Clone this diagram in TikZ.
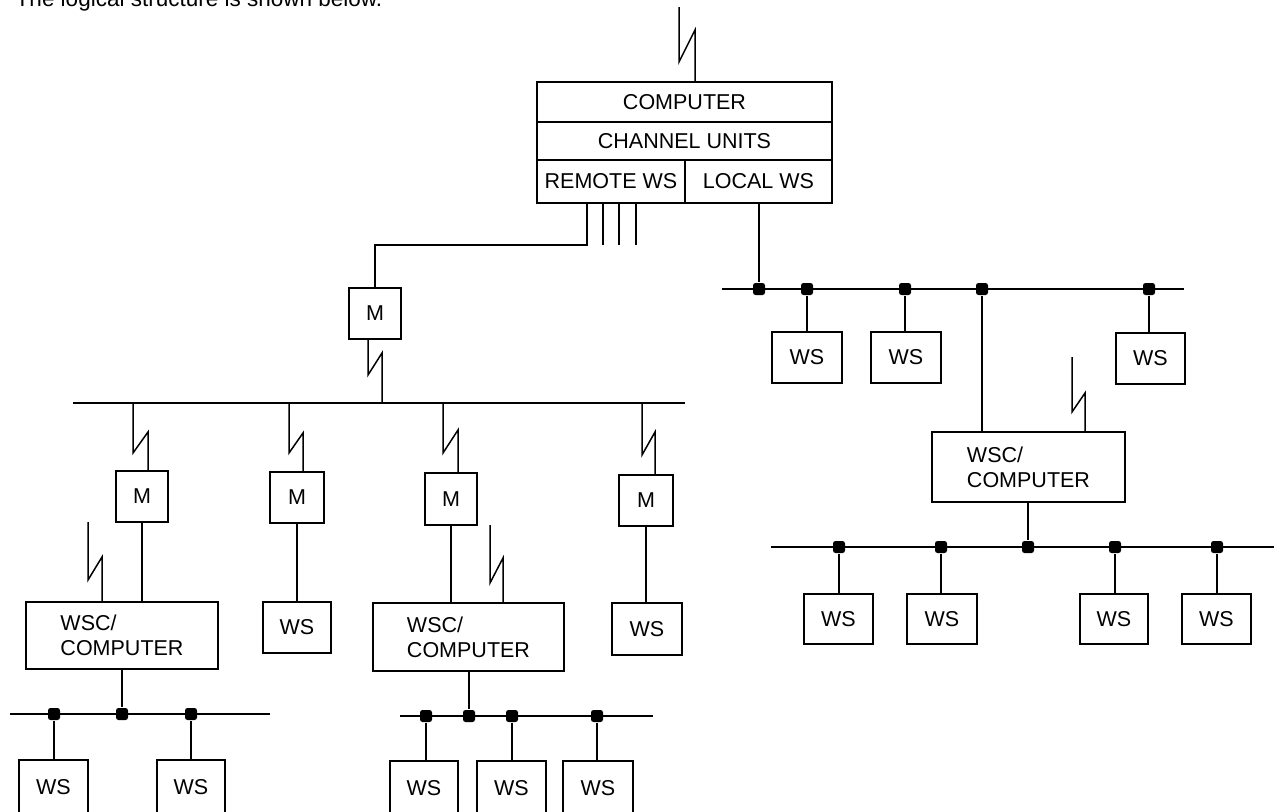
\documentclass[tikz,border=0pt]{standalone}
\usepackage{fontspec}
\setmainfont{Liberation Sans}
\newcommand\lbl{\fontsize{21.5}{25}\selectfont}
\newcommand\introfont{\fontsize{22.5}{26}\selectfont}
\begin{document}
\begin{tikzpicture}[x=1pt,y=-1pt,line width=1.5pt,
  box/.style={draw,inner sep=0pt,font=\lbl,align=center},
  mbox/.style={box,minimum width=52pt,minimum height=51pt},
  wsbox/.style={box,minimum height=51pt},
  wscbox/.style={box,align=left},
  bdot/.style={fill,draw=none,minimum size=12pt,inner sep=0pt,rounded corners=2.5pt}]
\useasboundingbox (0,0) rectangle (1274,811);
\clip (0,0) rectangle (1274,811);

\node[anchor=base west,font=\introfont,inner sep=0pt] (intro) at (15,6) {The logical structure is shown below.};

% central computer
\node[box,minimum width=295pt,minimum height=40pt] (top) at (684.5,102) {COMPUTER};
\node[box,minimum width=295pt,minimum height=38pt] (chan) at (684.5,141) {CHANNEL UNITS};
\node[box,minimum width=148pt,minimum height=43pt] (remote) at (611,181.5) {\raisebox{-4pt}{REMOTE WS}};
\node[box,minimum width=147pt,minimum height=43pt] (local) at (758.5,181.5) {\raisebox{-4pt}{LOCAL WS}};

% modems
\node[mbox] (M0) at (375,313.5) {M};
\node[mbox] (M1) at (142,496.5) {M};
\node[mbox,minimum width=54pt] (M2) at (297,497.5) {M};
\node[mbox,minimum height=52pt] (M3) at (451,499) {M};
\node[mbox,minimum width=54pt] (M4) at (646,500.5) {M};

% WSC computers
\node[wscbox,minimum width=192pt,minimum height=67pt] (wsc1) at (122,635.5) {WSC/\\COMPUTER};
\node[wscbox,minimum width=191pt,minimum height=68pt] (wsc2) at (468.5,637) {WSC/\\COMPUTER};
\node[wscbox,minimum width=193pt,minimum height=70pt] (wsc3) at (1028.5,467) {WSC/\\COMPUTER};

% workstations
\node[wsbox,minimum width=68pt] (wsA) at (297,627.5) {WS};
\node[wsbox,minimum width=70pt,minimum height=52pt] (wsB) at (647,629) {WS};
\node[wsbox,minimum width=69pt,minimum height=54pt] (wsL1) at (53.5,787) {WS};
\node[wsbox,minimum width=68pt,minimum height=54pt] (wsL2) at (191,787) {WS};
\node[wsbox,minimum width=68pt,minimum height=54pt] (wsM1) at (424,788) {WS};
\node[wsbox,minimum width=69pt,minimum height=54pt] (wsM2) at (511.5,788) {WS};
\node[wsbox,minimum width=70pt,minimum height=54pt] (wsM3) at (598,788) {WS};
\node[wsbox,minimum width=70pt] (wsR1) at (807,357.5) {WS};
\node[wsbox,minimum width=70pt] (wsR2) at (906,357.5) {WS};
\node[wsbox,minimum width=69pt] (wsR3) at (1150.5,358.5) {WS};
\node[wsbox,minimum width=69pt,minimum height=50pt] (wsS1) at (838.5,619) {WS};
\node[wsbox,minimum width=70pt,minimum height=50pt] (wsS2) at (942,619) {WS};
\node[wsbox,minimum width=68pt,minimum height=50pt] (wsS3) at (1114,619) {WS};
\node[wsbox,minimum width=69pt,minimum height=50pt] (wsS4) at (1216.5,619) {WS};

% bus ends
\coordinate (mbL) at (73,403);   \coordinate (mbR) at (685,403);
\coordinate (ubL) at (722,289);  \coordinate (ubR) at (1184,289);
\coordinate (lbL) at (771,547);  \coordinate (lbR) at (1274,547);
\coordinate (blL) at (10,714);   \coordinate (blR) at (270,714);
\coordinate (bmL) at (400,716);  \coordinate (bmR) at (653,716);
\draw (mbL) -- (mbR);
\draw (ubL) -- (ubR);
\draw (lbL) -- (lbR);
\draw (blL) -- (blR);
\draw (bmL) -- (bmR);

% antenna on top computer
\coordinate (t0) at (679,7); \coordinate (l0) at (679,62); \coordinate (h0) at (695,30);
\draw (t0) -- (l0) -- (h0) -- (h0 |- top.north);

% remote lines
\coordinate (r1) at (587,245); \coordinate (r2) at (603,245);
\coordinate (r3) at (619,245); \coordinate (r4) at (636,245);
\draw (r1 |- remote.south) -- (r1) -- (r1 -| M0.north) -- (M0.north);
\draw (r2 |- remote.south) -- (r2);
\draw (r3 |- remote.south) -- (r3);
\draw (r4 |- remote.south) -- (r4);

% M0 to main bus
\coordinate (l1) at (368,375); \coordinate (h1) at (382,353);
\draw (l1 |- M0.south) -- (l1) -- (h1) -- (h1 |- mbL);

% bus to modems
\coordinate (l2) at (133,453); \coordinate (h2) at (148,432);
\draw (l2 |- mbL) -- (l2) -- (h2) -- (h2 |- M1.north);
\coordinate (l3) at (289,453); \coordinate (h3) at (303,433);
\draw (l3 |- mbL) -- (l3) -- (h3) -- (h3 |- M2.north);
\coordinate (l4) at (443,453); \coordinate (h4) at (458,430);
\draw (l4 |- mbL) -- (l4) -- (h4) -- (h4 |- M3.north);
\coordinate (l5) at (642,455); \coordinate (h5) at (655,432);
\draw (l5 |- mbL) -- (l5) -- (h5) -- (h5 |- M4.north);

% modems down
\draw (M1.south) -- (M1.south |- wsc1.north);
\draw (M2.south) -- (M2.south |- wsA.north);
\draw (M3.south) -- (M3.south |- wsc2.north);
\draw (M4.south) -- (M4.south |- wsB.north);

% WSC antennas
\coordinate (t6) at (88,522); \coordinate (l6) at (88,580); \coordinate (h6) at (102,557);
\draw (t6) -- (l6) -- (h6) -- (h6 |- wsc1.north);
\coordinate (t7) at (490,525); \coordinate (l7) at (490,583); \coordinate (h7) at (503,558);
\draw (t7) -- (l7) -- (h7) -- (h7 |- wsc2.north);
\coordinate (t8) at (1072,357); \coordinate (l8) at (1072,412); \coordinate (h8) at (1085,393);
\draw (t8) -- (l8) -- (h8) -- (h8 |- wsc3.north);

% bottom left LAN
\node[bdot] (dL1) at (54,714) {};
\node[bdot] (dL2) at (122,714) {};
\node[bdot] (dL3) at (191,714) {};
\draw (wsc1.south) -- (dL2);
\draw (dL1) -- (dL1 |- wsL1.north);
\draw (dL3) -- (dL3 |- wsL2.north);

% bottom middle LAN
\node[bdot] (dM1) at (426,716) {};
\node[bdot] (dM2) at (469,716) {};
\node[bdot] (dM3) at (512,716) {};
\node[bdot] (dM4) at (597,716) {};
\draw (wsc2.south -| dM2) -- (dM2);
\draw (dM1) -- (dM1 |- wsM1.north);
\draw (dM3) -- (dM3 |- wsM2.north);
\draw (dM4) -- (dM4 |- wsM3.north);

% upper right LAN
\node[bdot] (dU0) at (759,289) {};
\node[bdot] (dU1) at (807,289) {};
\node[bdot] (dU2) at (905,289) {};
\node[bdot] (dU3) at (982,289) {};
\node[bdot] (dU4) at (1149,289) {};
\draw (local.south -| dU0) -- (dU0);
\draw (dU1) -- (dU1 |- wsR1.north);
\draw (dU2) -- (dU2 |- wsR2.north);
\draw (dU3) -- (dU3 |- wsc3.north);
\draw (dU4) -- (dU4 |- wsR3.north);

% lower right LAN
\node[bdot] (dS1) at (839,547) {};
\node[bdot] (dS2) at (941,547) {};
\node[bdot] (dS3) at (1028,547) {};
\node[bdot] (dS4) at (1115,547) {};
\node[bdot] (dS5) at (1217,547) {};
\draw (wsc3.south -| dS3) -- (dS3);
\draw (dS1) -- (dS1 |- wsS1.north);
\draw (dS2) -- (dS2 |- wsS2.north);
\draw (dS4) -- (dS4 |- wsS3.north);
\draw (dS5) -- (dS5 |- wsS4.north);
\end{tikzpicture}
\end{document}
